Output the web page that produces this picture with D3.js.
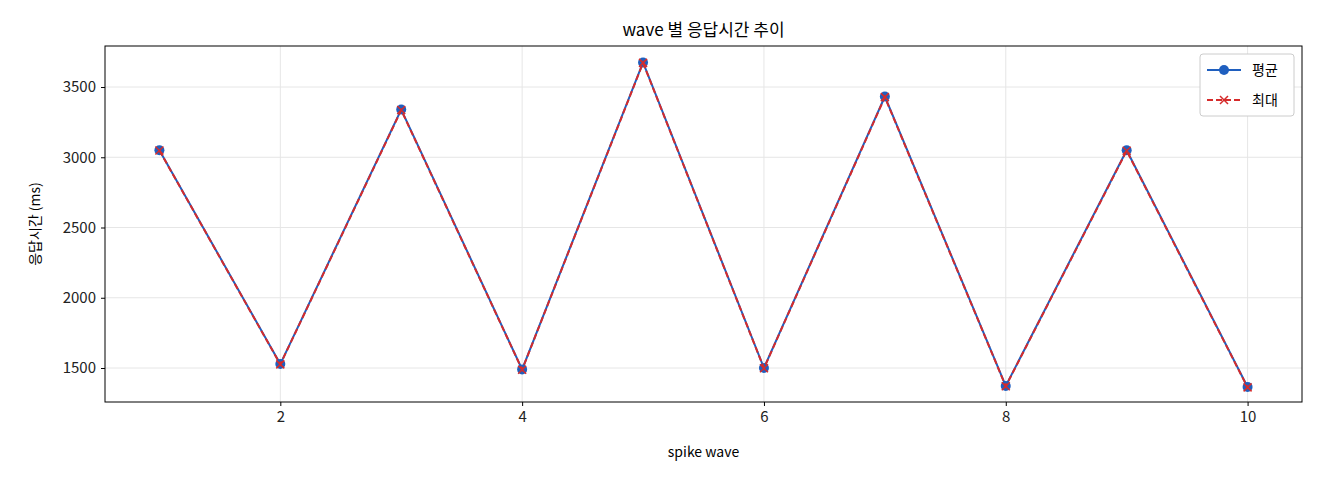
<!DOCTYPE html>
<html><head><meta charset="utf-8">
<script src="https://cdn.jsdelivr.net/npm/d3@7"></script>
<style>body{margin:0;background:#fff;font-family:"Noto Sans CJK KR","Noto Sans",sans-serif;}</style>
</head><body><svg id="c" width="1320" height="480"></svg>
<script>
const waves = [1,2,3,4,5,6,7,8,9,10];
const avgMs = [3050,1528,3340,1490,3675,1500,3432,1372,3050,1365];
const maxMs = [3048,1526,3336,1488,3672,1498,3428,1370,3046,1362];
const xTicks = [2,4,6,8,10];
const yTicks = [1500,2000,2500,3000,3500];

const svg = d3.select("#c");
const L=105,R=1302,T=46,B=402;
const x = d3.scaleLinear().domain([0.55,10.45]).range([L,R]);
const y = d3.scaleLinear().domain([1258,3792]).range([B,T]);
const g = svg.append("g");
g.selectAll(".gx").data(xTicks).enter().append("line").attr("x1",d=>x(d)).attr("x2",d=>x(d)).attr("y1",T).attr("y2",B).attr("stroke","#e6e6e6");
g.selectAll(".gy").data(yTicks).enter().append("line").attr("y1",d=>y(d)).attr("y2",d=>y(d)).attr("x1",L).attr("x2",R).attr("stroke","#e6e6e6");
const xa = svg.append("g").attr("transform",`translate(0,${B})`).call(d3.axisBottom(x).tickValues(xTicks).tickFormat(d3.format("d")).tickSize(4).tickPadding(5));
const ya = svg.append("g").attr("transform",`translate(${L},0)`).call(d3.axisLeft(y).tickValues(yTicks).tickFormat(d3.format("d")).tickSize(4).tickPadding(5));
[xa,ya].forEach(a=>{a.selectAll("text").attr("font-size",15).attr("fill","#222").style("font-family","'Noto Sans CJK KR'");a.select(".domain").remove();});
svg.append("rect").attr("x",L).attr("y",T).attr("width",R-L).attr("height",B-T).attr("fill","none").attr("stroke","#000");
const line = d3.line().x((d,i)=>x(waves[i])).y(d=>y(d));
svg.append("path").datum(avgMs).attr("d",line).attr("fill","none").attr("stroke","#1f5fbf").attr("stroke-width",2);
svg.selectAll(".pa").data(avgMs).enter().append("circle").attr("cx",(d,i)=>x(waves[i])).attr("cy",d=>y(d)).attr("r",5).attr("fill","#1f5fbf");
svg.append("path").datum(maxMs).attr("d",line).attr("fill","none").attr("stroke","#d62b2b").attr("stroke-width",2).attr("stroke-dasharray","6,3");
const cross=(sel,cx,cy,s)=>{sel.append("path").attr("d",`M${cx-s},${cy-s}L${cx+s},${cy+s}M${cx-s},${cy+s}L${cx+s},${cy-s}`).attr("stroke","#d62b2b").attr("stroke-width",1.5);};
maxMs.forEach((d,i)=>cross(svg,x(waves[i]),y(d),4));
const lg = svg.append("g");
lg.append("rect").attr("x",1200).attr("y",54).attr("width",94).attr("height",62).attr("rx",3).attr("fill","#fff").attr("stroke","#ccc");
lg.append("line").attr("x1",1207).attr("x2",1241).attr("y1",70).attr("y2",70).attr("stroke","#1f5fbf").attr("stroke-width",2);
lg.append("circle").attr("cx",1224).attr("cy",70).attr("r",5).attr("fill","#1f5fbf");
lg.append("line").attr("x1",1207).attr("x2",1241).attr("y1",100).attr("y2",100).attr("stroke","#d62b2b").attr("stroke-width",2).attr("stroke-dasharray","6,3");
cross(lg,1224,100,4);
lg.append("text").attr("x",1252).attr("y",75).text("평균").attr("font-size",14);
lg.append("text").attr("x",1252).attr("y",105).text("최대").attr("font-size",14);
svg.append("text").attr("x",(L+R)/2).attr("y",36).attr("text-anchor","middle").attr("font-size",17).text("wave 별 응답시간 추이");
svg.append("text").attr("x",(L+R)/2).attr("y",457).attr("text-anchor","middle").attr("font-size",14).text("spike wave");
svg.append("text").attr("transform",`translate(40,${(T+B)/2}) rotate(-90)`).attr("text-anchor","middle").attr("font-size",14).text("응답시간 (ms)");
</script></body></html>
